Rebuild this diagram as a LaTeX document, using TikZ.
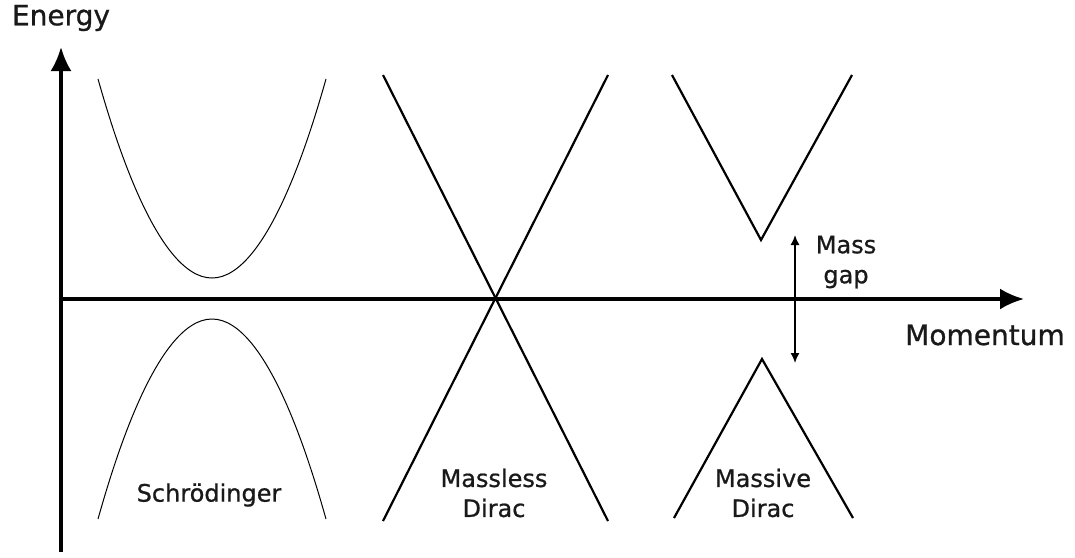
\documentclass[tikz,border=0pt]{standalone}
\usepackage{fontspec}
\setmainfont[FakeBold=0.8]{DejaVu Sans}
\usetikzlibrary{arrows.meta}
\tikzset{
  axisline/.style={line width=3.3pt, -{Latex[length=24pt,width=21pt]}},
  diracline/.style={line width=2.2pt},
  schline/.style={line width=1pt},
  gaparrow/.style={line width=1.5pt, {Latex[length=10pt,width=9pt]}-{Latex[length=10pt,width=9pt]}},
  biglabel/.style={font=\fontsize{28}{34}\selectfont, inner sep=0pt, text=black!90},
  lbl/.style={font=\fontsize{24}{30}\selectfont, align=center, inner sep=0pt, text=black!90},
}
\begin{document}
\begin{tikzpicture}[x=1pt,y=-1pt]
\useasboundingbox (0,0) rectangle (1075,557);
% axes
\coordinate (O) at (61,299);
\coordinate (ybot) at (61,552);
\coordinate (ytop) at (61,47);
\coordinate (xend) at (1024,299);
\draw[axisline] (ybot) -- (ytop);
\draw[axisline] (O) -- (xend);
\node[biglabel] (energy) at (61,18) {Energy};
\node[biglabel] (momentum) at (985,335) {Momentum};
% Schrodinger
\draw[schline] (98,79) parabola bend (212,278) (326,79);
\draw[schline] (98,519) parabola bend (212,319) (326,519);
\node[lbl] (sch) at (209,495) {Schrödinger};
% Massless Dirac
\coordinate (a1) at (383,75);
\coordinate (a2) at (608,521);
\coordinate (b1) at (608,75);
\coordinate (b2) at (383,521);
\draw[diracline] (a1) -- (a2);
\draw[diracline] (b1) -- (b2);
\node[lbl] (mless) at (494,493) {Massless\\Dirac};
% Massive Dirac
\coordinate (c1) at (672,75);
\coordinate (c2) at (761,240);
\coordinate (c3) at (852,75);
\coordinate (d1) at (674,518);
\coordinate (d2) at (762,359);
\coordinate (d3) at (853,518);
\draw[diracline] (c1) -- (c2) -- (c3);
\draw[diracline] (d1) -- (d2) -- (d3);
\node[lbl] (mive) at (763,493) {Massive\\Dirac};
% Mass gap
\coordinate (g1) at (795,235);
\coordinate (g2) at (795,363);
\draw[gaparrow] (g1) -- (g2);
\node[lbl] (gap) at (846,262) {Mass\\gap};
\end{tikzpicture}
\end{document}
